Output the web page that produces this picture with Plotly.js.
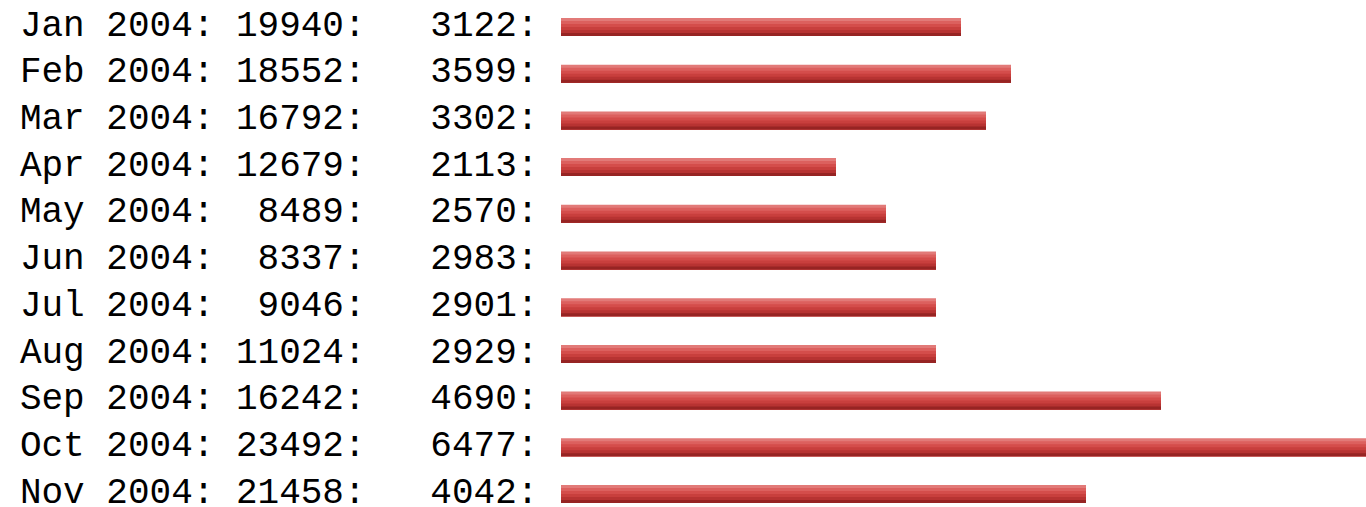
<!DOCTYPE html>
<html>
<head>
<meta charset="utf-8">
<script src="https://cdn.plot.ly/plotly-3.0.1.min.js"></script>
<style>
html,body{margin:0;padding:0;background:#fff;}
#chart{width:1366px;height:507px;}
</style>
</head>
<body>
<div id="chart"></div>
<script>
// Data
const months = ["Jan 2004","Feb 2004","Mar 2004","Apr 2004","May 2004","Jun 2004","Jul 2004","Aug 2004","Sep 2004","Oct 2004","Nov 2004"];
const hits = [19940,18552,16792,12679,8489,8337,9046,11024,16242,23492,21458];
const visits = [3122,3599,3302,2113,2570,2983,2901,2929,4690,6477,4042];
// bar lengths as drawn (in 25-pixel blocks)
const barBlocks = [16,18,17,11,13,15,15,15,24,33,21];

const NB = "\u00A0";
function pad(v, n){ return String(v).padStart(n, NB); }
const labels = months.map((m,i)=> (m + ":" + NB + pad(hits[i],5) + ":" + NB+NB+NB + pad(visits[i],4) + ":" + NB).replace(/ /g, NB));
const idx = months.map((_,i)=>i);

const rowPx = 46.7;
const stripePx = 3;
const barPx = 18;
const stripeColors = ["#e27a78","#dc605e","#d44d4b","#c83f3d","#b73332","#962423"];
const traces = stripeColors.map((c,k)=>({
  type:"bar", orientation:"h",
  x: barBlocks, y: idx,
  width: (barPx - stripePx*k)/rowPx,
  offset: (-barPx/2 + stripePx*k)/rowPx,
  marker:{color:c, line:{width:0}},
  hoverinfo:"skip", showlegend:false
}));

const layout = {
  width:1366, height:507,
  margin:{l:561, r:0, t:0, b:0, pad:0},
  paper_bgcolor:"#fff", plot_bgcolor:"#fff",
  barmode:"overlay",
  xaxis:{range:[0,32.2], visible:false, fixedrange:true},
  yaxis:{
    range:[10 + 13/rowPx, -27/rowPx],
    tickvals: idx, ticktext: labels,
    showgrid:false, zeroline:false, showline:false, ticks:"",
    ticklabelstandoff: 0,
    ticklabelshift: 4,
    ticklabeloverflow: "allow",
    tickfont:{family:"'Liberation Mono','Courier New',monospace", size:36, color:"#000"}
  }
};
Plotly.newPlot("chart", traces, layout, {staticPlot:true, displayModeBar:false});
</script>
</body>
</html>
